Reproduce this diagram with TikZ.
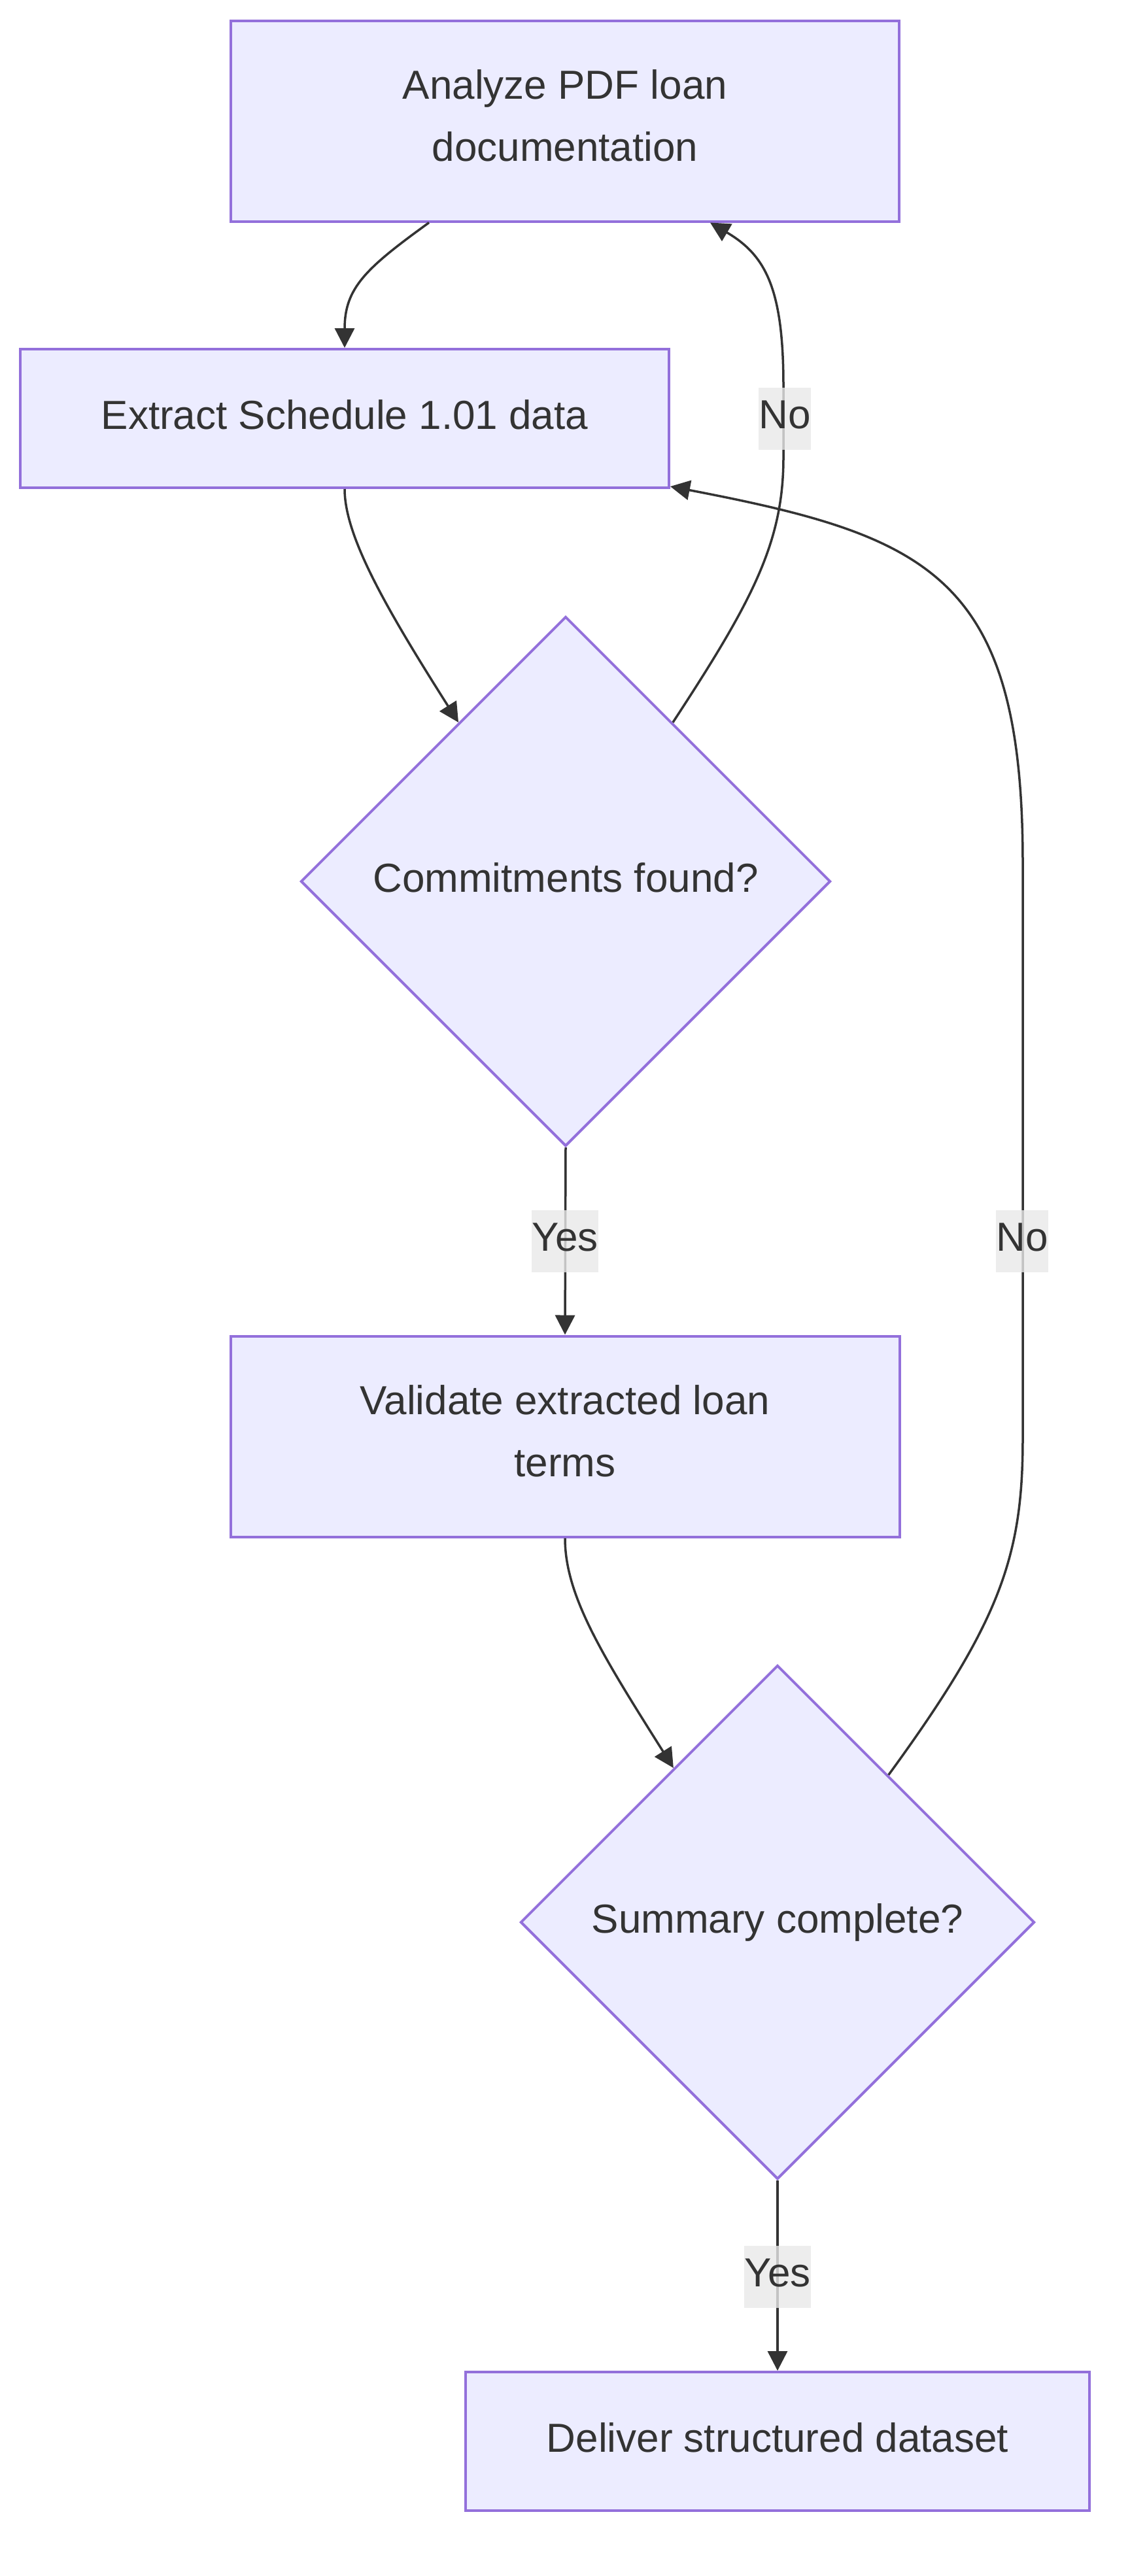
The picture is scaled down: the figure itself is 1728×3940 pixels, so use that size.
\documentclass[tikz,border=0pt]{standalone}
\usepackage{fontspec}
\setmainfont{Liberation Sans}
\usetikzlibrary{shapes.geometric,arrows.meta}
\definecolor{nodefill}{HTML}{ECECFF}
\definecolor{nodeline}{HTML}{9370DB}
\definecolor{ink}{HTML}{333333}
\definecolor{labelbg}{HTML}{E8E8E8}
\newcommand\dstrut{\rule[-12pt]{0pt}{12pt}}
\newcommand\mstrut{\rule[-16pt]{0pt}{16pt}}
\begin{document}
\begin{tikzpicture}[x=1pt,y=-1pt,
  every node/.style={font=\fontsize{62}{95}\selectfont, text=ink},
  procbox/.style={draw=nodeline, fill=nodefill, line width=4pt, rectangle, inner sep=0pt, align=center},
  decision/.style={draw=nodeline, fill=nodefill, line width=4pt, diamond, aspect=1, inner sep=0pt, align=center},
  flow/.style={draw=ink, line width=3.5pt, -{Triangle[length=30pt,width=30pt]}},
  edgelabel/.style={fill=labelbg, fill opacity=0.8, text opacity=1, inner xsep=0pt, inner ysep=0pt, minimum height=95pt}
]
\useasboundingbox (0,0) rectangle (1728,3940);

\node[procbox, minimum width=1022pt, minimum height=307pt] (A) at (864,185) {Analyze PDF loan\\documentation\mstrut};
\node[procbox, minimum width=992pt, minimum height=212pt] (B) at (527,640) {Extract Schedule 1.01 data\dstrut};
\node[decision, minimum width=810pt, minimum height=810pt] (C) at (865,1348) {Commitments found?\dstrut};
\node[procbox, minimum width=1023pt, minimum height=307pt] (D) at (864,2197) {Validate extracted loan\\terms\mstrut};
\node[decision, minimum width=786pt, minimum height=786pt] (E) at (1189,2940) {Summary complete?};
\node[procbox, minimum width=954pt, minimum height=212pt] (F) at (1189,3734) {Deliver structured dataset\dstrut};

% A -> B
\draw[flow] ([xshift=-208pt]A.south) .. controls (560,410) and (527,440) .. (B.north);
% B -> C
\draw[flow] (B.south) .. controls (527,820) and (590,930) .. (C.124);
% C -> A (No)
\draw[flow] (C.56) .. controls (1150,920) and (1198,830) .. (1198,700) -- (1198,590) .. controls (1198,440) and (1170,390) .. ([xshift=222pt]A.south);
% C -> D (Yes)
\draw[flow] (C.south) -- (D.north);
% D -> E
\draw[flow] (D.south) .. controls (864,2440) and (920,2530) .. (E.124);
% E -> B (No)
\draw[flow] (E.53) .. controls (1530,2480) and (1564,2380) .. (1564,2200) -- (1564,1320) .. controls (1564,880) and (1420,820) .. ([yshift=4pt]B.south east);
% E -> F (Yes)
\draw[flow] (E.south) -- (F.north);

\node[edgelabel] (l1) at (1200,640) {No\dstrut};
\node[edgelabel] (l2) at (864,1898) {Yes\dstrut};
\node[edgelabel] (l3) at (1563,1898) {No\dstrut};
\node[edgelabel] (l4) at (1189,3482) {Yes\dstrut};
\end{tikzpicture}
\end{document}
